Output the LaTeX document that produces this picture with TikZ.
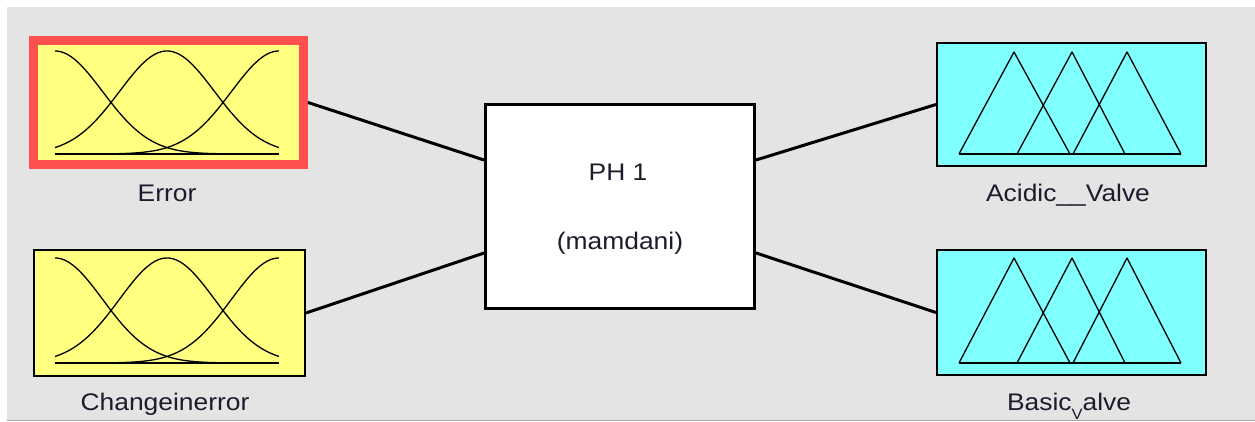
\documentclass[tikz,border=0pt]{standalone}
\usepackage{fontspec}
\setmainfont{Liberation Sans}[FakeStretch=1.1]
\usetikzlibrary{calc}

\definecolor{panelgray}{HTML}{E4E4E4}
\definecolor{paneledge}{HTML}{A8A8A8}
\definecolor{inyellow}{HTML}{FFFF80}
\definecolor{outcyan}{HTML}{80FFFF}
\definecolor{selred}{HTML}{FF5050}
\definecolor{labelink}{HTML}{1C1C2C}

% three Gaussian membership functions: left x, width, baseline y, peak height
\newcommand\gaussmfs[4]{%
  \draw[mfline] (#1,#3) -- ++(#2,0);
  \foreach \c in {0,0.5,1}{%
    \draw[mfline] plot[domain=0:1,samples=90,smooth]
      ({#1+#2*\x},{#3-#4*exp(-((\x-\c)^2)/0.09015)});
  }%
}
% three triangular membership functions: baseline y, peak y
\newcommand\trimfs[2]{%
  \draw[mfline] (959,#1) -- (1181,#1);
  \draw[mfline] (959,#1) -- (1014,#2) -- (1070,#1);
  \draw[mfline] (1017,#1) -- (1072,#2) -- (1125,#1);
  \draw[mfline] (1073,#1) -- (1127,#2) -- (1181,#1);
}

\begin{document}
\begin{tikzpicture}[x=1pt,y=-1pt,
  varbox/.style={draw=black,line width=2pt,inner sep=0pt,minimum width=269pt,minimum height=123pt},
  inbox/.style={varbox,fill=inyellow},
  outbox/.style={varbox,fill=outcyan},
  selbox/.style={inbox,draw=selred,line width=9pt,minimum width=270pt,minimum height=124pt},
  fisbox/.style={draw=black,line width=3pt,fill=white,inner sep=0pt,minimum width=269pt,minimum height=204pt},
  wire/.style={draw=black,line width=3pt},
  mfline/.style={draw=black,line width=1.3pt,line join=round},
  lbl/.style={text=labelink,inner sep=0pt,anchor=base,font=\fontsize{24}{27}\selectfont}]

  \useasboundingbox (0,0) rectangle (1255,422);
  \fill[white] (0,0) rectangle (1255,422);
  \fill[panelgray] (7,7) rectangle (1255,420);
  \draw[paneledge,line width=1pt] (7,420.5) -- (1255,420.5);

  % variable boxes and the inference system
  \node[selbox] (err) at (168.5,102.5) {};
  \node[inbox,minimum width=271pt,minimum height=126pt] (chg) at (169.5,313) {};
  \node[fisbox] (fis) at (620,206.5) {};
  \node[outbox] (acid) at (1071.5,104.5) {};
  \node[outbox,minimum height=125pt] (basic) at (1071.5,312.5) {};

  % ports on the inference box
  \coordinate (fisin1)  at ($(fis.west)+(0,-46.5)$);
  \coordinate (fisin2)  at ($(fis.west)+(0,46.5)$);
  \coordinate (fisout1) at ($(fis.east)+(0,-46.5)$);
  \coordinate (fisout2) at ($(fis.east)+(0,46.5)$);

  % connectors
  \draw[wire] (err.east) -- (fisin1);
  \draw[wire] (chg.east) -- (fisin2);
  \draw[wire] (fisout1) -- (acid.west);
  \draw[wire] (fisout2) -- (basic.west);

  % membership function sketches
  \gaussmfs{55}{224}{154}{103}
  \gaussmfs{55}{224}{363}{105}
  \trimfs{154}{52}
  \trimfs{363}{258}

  % labels
  \node[lbl] (errlbl) at (167,202) {Error};
  \node[lbl] (chglbl) at (165,410) {Changeinerror};
  \node[lbl] (fisname) at (618,181) {PH 1};
  \node[lbl] (fistype) at (620,249) {(mamdani)};
  \node[lbl] (acidlbl) at (1068,202) {Acidic\_\_Valve};
  \node[lbl] (basiclbl) at (1069,410) {Basic\raisebox{-9pt}{\fontsize{15}{15}\selectfont V}alve};
\end{tikzpicture}
\end{document}
